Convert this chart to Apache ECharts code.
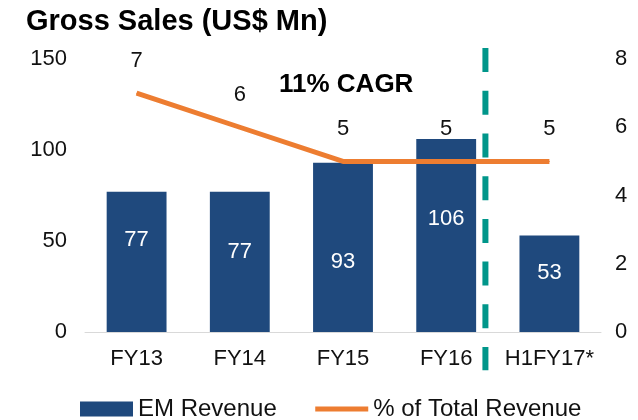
<!DOCTYPE html>
<html>
<head>
<meta charset="utf-8">
<script src="https://cdn.jsdelivr.net/npm/echarts/dist/echarts.min.js"></script>
<style>
  html, body { margin: 0; padding: 0; background: #fff; }
  #chart { width: 638px; height: 420px; }
</style>
</head>
<body>
<div id="chart"></div>
<script>
const categories = ['FY13', 'FY14', 'FY15', 'FY16', 'H1FY17*'];
const emRevenue = [77, 77, 93, 106, 53];
const pctOfTotal = [7, 6, 5, 5, 5];
const leftTicks = { min: 0, max: 150, interval: 50 };
const rightTicks = { min: 0, max: 8, interval: 2 };

// bar value labels sit a bit off centre in the original
const barLabelShift = [-22, -10, 15, -17, -11];

const FONT = 'Liberation Sans, Arial, sans-serif';
const chart = echarts.init(document.getElementById('chart'));

const option = {
  animation: false,
  textStyle: { fontFamily: FONT },
  title: [
    {
      text: 'Gross Sales (US$ Mn)',
      left: 26, top: 7, padding: 0,
      textStyle: { fontSize: 29, fontWeight: 'bold', color: '#000', fontFamily: FONT }
    },
    {
      text: '11% CAGR',
      left: 279, top: 72, padding: 0,
      textStyle: { fontSize: 26, fontWeight: 'bold', color: '#000', fontFamily: FONT }
    }
  ],
  grid: { left: 85, right: 37, top: 59, bottom: 88 },
  legend: {
    left: 80, top: 397, padding: 0,
    itemWidth: 53, itemHeight: 15, itemGap: 36,
    textStyle: { fontSize: 24, color: '#111', fontFamily: FONT },
    data: [
      { name: 'EM Revenue', icon: 'rect' },
      {
        name: '% of Total Revenue',
        itemStyle: { opacity: 0 },
        lineStyle: { width: 5, color: '#ed7d31' }
      }
    ]
  },
  xAxis: {
    type: 'category',
    data: categories,
    axisLine: { lineStyle: { color: '#d9d9d9', width: 1 } },
    axisTick: { show: false },
    axisLabel: { interval: 0, fontSize: 22, color: '#111', margin: 16, fontFamily: FONT }
  },
  yAxis: [
    {
      type: 'value',
      min: leftTicks.min, max: leftTicks.max, interval: leftTicks.interval,
      splitLine: { show: false },
      axisLine: { show: false },
      axisLabel: { fontSize: 22, color: '#111', margin: 18, fontFamily: FONT }
    },
    {
      type: 'value',
      min: rightTicks.min, max: rightTicks.max, interval: rightTicks.interval,
      splitLine: { show: false },
      axisLine: { show: false },
      axisLabel: { fontSize: 22, color: '#111', margin: 14, fontFamily: FONT }
    }
  ],
  series: [
    {
      name: 'EM Revenue',
      type: 'bar',
      barWidth: '58%',
      itemStyle: { color: '#1f497d' },
      data: emRevenue.map((v, i) => ({
        value: v,
        label: { offset: [0, barLabelShift[i]] }
      })),
      label: {
        show: true, position: 'inside',
        fontSize: 22, color: '#fff', fontFamily: FONT
      }
    },
    {
      name: '% of Total Revenue',
      type: 'line',
      yAxisIndex: 1,
      symbol: 'circle',
      symbolSize: 1,
      lineStyle: { color: '#ed7d31', width: 5 },
      itemStyle: { color: '#ed7d31' },
      data: pctOfTotal,
      label: {
        show: true, position: 'top', distance: 21,
        fontSize: 22, color: '#111', fontFamily: FONT
      },
      z: 5
    }
  ]
};

chart.setOption(option);

// teal dashed divider between actuals and the half-year figure
const xA = chart.convertToPixel({ xAxisIndex: 0 }, 'FY16');
const xB = chart.convertToPixel({ xAxisIndex: 0 }, 'H1FY17*');
const xDiv = xA + (xB - xA) * 0.38;
const yTop = chart.convertToPixel({ yAxisIndex: 0 }, 156);
const yBot = chart.convertToPixel({ yAxisIndex: 0 }, -21);

chart.setOption({
  graphic: [
    {
      type: 'line',
      shape: { x1: xDiv, y1: yTop, x2: xDiv, y2: yBot },
      style: { stroke: '#00968a', lineWidth: 6, lineDash: [24, 18.7] },
      z: 10
    }
  ]
});
</script>
</body>
</html>
